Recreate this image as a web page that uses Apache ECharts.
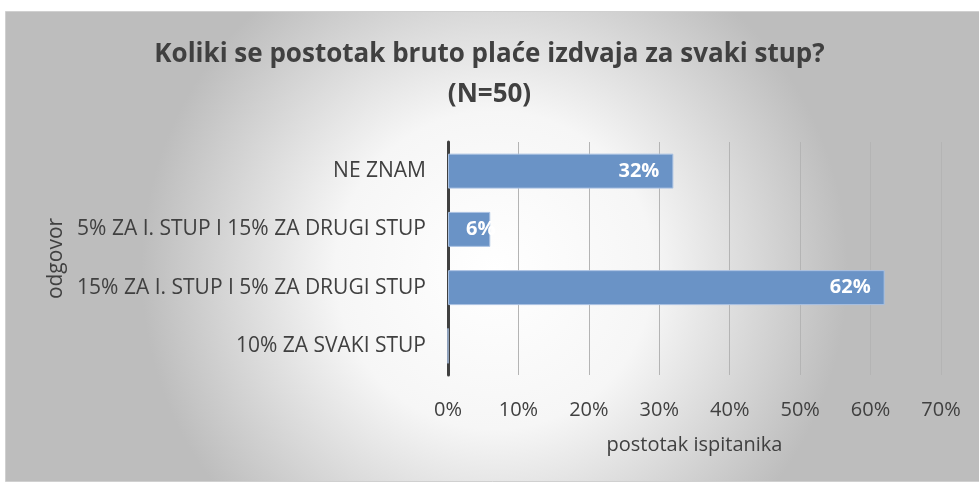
<!DOCTYPE html>
<html>
<head>
<meta charset="utf-8">
<script src="https://cdn.jsdelivr.net/npm/echarts@6/dist/echarts.min.js"></script>
<style>
  html, body { margin: 0; padding: 0; background: #fff; }
  #chart { width: 979px; height: 487px; }
</style>
</head>
<body>
<div id="chart"></div>
<script>
const categories = [
  'NE ZNAM',
  '5% ZA I. STUP I 15% ZA DRUGI STUP',
  '15% ZA I. STUP I 5% ZA DRUGI STUP',
  '10% ZA SVAKI STUP'
]
const values = [32, 6, 62, 0]
const titleLines = ['Koliki se postotak bruto plaće izdvaja za svaki stup?', '(N=50)']

const font = 'Open Sans'
const chart = echarts.init(document.getElementById('chart'))

// short bars: label sits from the left like Excel does (it gets cut at bar end there)
const barData = values.map((v) => v > 0 && v < 10
  ? { value: v, label: { position: 'insideLeft', distance: 18 } }
  : v)

chart.setOption({
  animation: false,
  graphic: [{
    type: 'rect',
    z: -10,
    silent: true,
    shape: { x: 5.5, y: 11.5, width: 978, height: 470 },
    style: {
      fill: new echarts.graphic.RadialGradient(0.5, 0.55, 0.75, [
        { offset: 0, color: '#ffffff' },
        { offset: 0.45, color: '#f6f6f6' },
        { offset: 1, color: '#bdbdbd' }
      ]),
      stroke: '#d0d0d0',
      lineWidth: 1
    }
  }],
  title: {
    text: titleLines.join('\n'),
    left: 'center',
    top: 30,
    textStyle: {
      fontFamily: font,
      fontWeight: 'bold',
      fontSize: 26,
      lineHeight: 40,
      color: '#404040'
    }
  },
  grid: { left: 448, right: 38, top: 142, bottom: 112 },
  xAxis: {
    type: 'value',
    min: 0,
    max: 70,
    interval: 10,
    name: 'postotak ispitanika',
    nameLocation: 'middle',
    nameGap: 60,
    nameTextStyle: { fontFamily: font, fontSize: 20, color: '#404040' },
    axisLine: { show: false },
    axisTick: { show: false },
    axisLabel: {
      formatter: '{value}%',
      margin: 25,
      fontFamily: font,
      fontSize: 20,
      color: '#404040'
    },
    splitLine: { lineStyle: { color: '#b4b4b4', width: 1 } }
  },
  yAxis: {
    type: 'category',
    inverse: true,
    data: categories,
    name: 'odgovor',
    nameLocation: 'middle',
    nameGap: 380,
    nameRotate: 90,
    nameTextStyle: { fontFamily: font, fontSize: 21, color: '#404040' },
    axisLine: { lineStyle: { color: '#404040', width: 3 } },
    axisTick: { show: false },
    axisLabel: {
      margin: 22,
      fontFamily: font,
      fontSize: 21,
      color: '#404040'
    }
  },
  series: [{
    type: 'bar',
    data: barData,
    barCategoryGap: '40%',
    itemStyle: { color: '#6a93c6', borderColor: '#a9c1e2', borderWidth: 1 },
    label: {
      show: true,
      position: 'insideRight',
      formatter: (p) => p.value > 0 ? p.value + '%' : '',
      fontFamily: font,
      fontWeight: 'bold',
      fontSize: 20,
      color: '#ffffff',
      distance: 14
    }
  }]
})
</script>
</body>
</html>
